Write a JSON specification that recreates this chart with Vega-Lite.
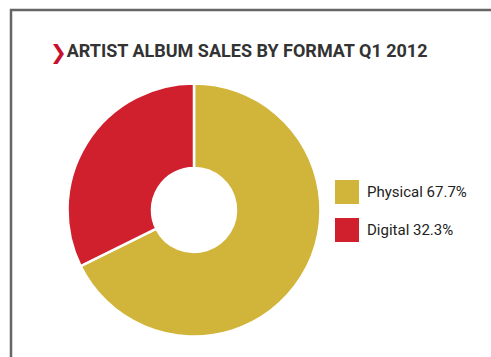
{
  "$schema": "https://vega.github.io/schema/vega-lite/v6.json",
  "width": 485,
  "height": 352,
  "autosize": {"type": "none"},
  "padding": {"left": 11, "top": 10, "right": -5, "bottom": -5},
  "background": "white",
  "config": {"view": {"stroke": null}},
  "title": {
    "text": "❯",
    "subtitle": "\u2800\u2009ARTIST ALBUM SALES BY FORMAT Q1 2012",
    "anchor": "start",
    "frame": "group",
    "orient": "top",
    "color": "#C8102E",
    "font": "DejaVu Sans",
    "fontSize": 20,
    "fontWeight": "bold",
    "subtitleColor": "#333333",
    "subtitleFont": "Roboto",
    "subtitleFontSize": 18,
    "subtitleFontWeight": "bold",
    "subtitlePadding": -20,
    "offset": -54,
    "dx": 39
  },
  "layer": [
    {
      "data": {"values": [{"frame": 1}]},
      "mark": {"type": "rect", "fill": "transparent", "stroke": "#666666", "strokeWidth": 2.5},
      "encoding": {}
    },
    {
      "data": {
        "values": [
          {"format": "Physical 67.7%", "share": 67.7},
          {"format": "Digital 32.3%", "share": 32.3}
        ]
      },
      "mark": {
        "type": "arc",
        "outerRadius": 126.5,
        "innerRadius": 42,
        "stroke": "white",
        "strokeWidth": 2.5,
        "xOffset": -59.5,
        "yOffset": 24
      },
      "encoding": {
        "theta": {"field": "share", "type": "quantitative", "stack": true},
        "order": {"field": "share", "type": "quantitative", "sort": "descending"},
        "color": {
          "field": "format",
          "type": "nominal",
          "scale": {"domain": ["Physical 67.7%", "Digital 32.3%"], "range": ["#D1B43A", "#D0202E"]},
          "legend": {
            "orient": "none",
            "legendX": 324,
            "legendY": 170,
            "title": null,
            "padding": 0,
            "symbolType": "square",
            "symbolSize": 576,
            "symbolStrokeWidth": 0,
            "symbolOpacity": 1,
            "labelFont": "Roboto",
            "labelFontSize": 15,
            "labelColor": "#222222",
            "labelOffset": 8,
            "rowPadding": 14
          }
        }
      }
    }
  ]
}
